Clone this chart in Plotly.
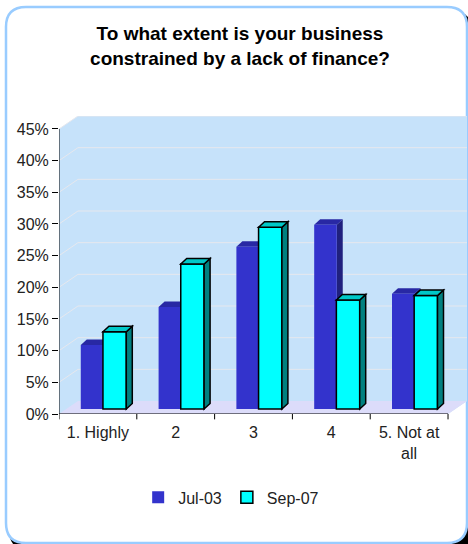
import plotly.graph_objects as go

# Survey responses: share of businesses by degree of finance constraint
categories = ["1. Highly", "2", "3", "4", "5. Not at<br>all"]
jul_03 = [10.1, 16.1, 25.6, 29.1, 18.2]
sep_07 = [12.2, 22.9, 28.7, 17.2, 17.9]
series_names = ["Jul-03", "Sep-07"]
y_tick_values = [0, 5, 10, 15, 20, 25, 30, 35, 40, 45]
y_tick_labels = [f"{v}%" for v in y_tick_values]

# Pseudo-3D geometry (in axis units)
DEPTH_X = 0.244      # wall depth, horizontal
DEPTH_Y = 2.05       # wall depth, vertical
BAR_DX = 0.077       # bar depth, horizontal
BAR_DY = 0.87        # bar depth, vertical
BASE_LIFT = 0.79     # bars stand mid-depth on the floor
Y_MAX = 45

BLUE = "#3333CC"
BLUE_SIDE = "#20207E"
BLUE_TOP = "#2828A4"
CYAN = "#00FFFF"
CYAN_SIDE = "#008080"
CYAN_TOP = "#00C8C8"
WALL = "#C6E2FA"
FLOOR = "#DCDCFA"
GRID = "#E6E8EE"
TEXT = "#222222"

FONT = "Liberation Sans, Arial, sans-serif"

x_pos = list(range(len(categories)))
n = len(categories)

fig = go.Figure()

fig.add_trace(go.Bar(
    x=x_pos, y=jul_03, name=series_names[0], yaxis="y2",
    offset=-0.22, width=0.29, base=0,
    marker=dict(color=BLUE, line=dict(width=0)),
))
fig.add_trace(go.Bar(
    x=x_pos, y=sep_07, name=series_names[1], yaxis="y2",
    offset=0.065, width=0.30, base=0,
    marker=dict(color=CYAN, line=dict(color="black", width=1.5)),
))

shapes = []

def poly(pts):
    return "M " + " L ".join(f"{x},{y}" for x, y in pts) + " Z"

# Back wall and left side wall
left, right = -0.5, n - 0.5
shapes.append(dict(
    type="path", xref="x", yref="y", layer="below",
    path=poly([(left, 0), (left, Y_MAX), (left + DEPTH_X, Y_MAX + DEPTH_Y),
               (right + DEPTH_X, Y_MAX + DEPTH_Y), (right + DEPTH_X, DEPTH_Y),
               (right, 0)]),
    fillcolor=WALL, line=dict(width=0),
))
# Floor
shapes.append(dict(
    type="path", xref="x", yref="y", layer="below",
    path=poly([(left, 0), (left + DEPTH_X, DEPTH_Y),
               (right + DEPTH_X, DEPTH_Y), (right, 0)]),
    fillcolor=FLOOR, line=dict(width=0),
))
# Gridlines on the walls
for v in y_tick_values[1:]:
    shapes.append(dict(
        type="path", xref="x", yref="y", layer="below",
        path=f"M {left},{v} L {left + DEPTH_X},{v + DEPTH_Y} L {right + DEPTH_X},{v + DEPTH_Y}",
        line=dict(color=GRID, width=1),
    ))

# Depth faces of the bars
def faces(values, offset, width, side_col, top_col, edge, layer):
    out = []
    for i, v in enumerate(values):
        x0 = i + offset
        x1 = x0 + width
        line = dict(color="black", width=1.5) if edge else dict(width=0)
        out.append(dict(
            type="path", xref="x", yref="y2", layer=layer,
            path=poly([(x1, 0), (x1 + BAR_DX, BAR_DY), (x1 + BAR_DX, v + BAR_DY), (x1, v)]),
            fillcolor=side_col, line=line,
        ))
        out.append(dict(
            type="path", xref="x", yref="y2", layer=layer,
            path=poly([(x0, v), (x0 + BAR_DX, v + BAR_DY), (x1 + BAR_DX, v + BAR_DY), (x1, v)]),
            fillcolor=top_col, line=line,
        ))
    return out

shapes += faces(jul_03, -0.22, 0.29, BLUE_SIDE, BLUE_TOP, False, "below")
shapes += faces(sep_07, 0.065, 0.30, CYAN_SIDE, CYAN_TOP, True, "above")

# Front axes
shapes.append(dict(type="line", xref="x", yref="y", x0=left, x1=left, y0=0, y1=Y_MAX,
                   line=dict(color="black", width=1), layer="above"))
shapes.append(dict(type="line", xref="x", yref="y", x0=left, x1=right, y0=0, y1=0,
                   line=dict(color="black", width=1), layer="above"))
for b in range(n + 1):
    xb = left + b
    shapes.append(dict(type="line", xref="x", yref="paper", x0=xb, x1=xb, y0=0, y1=-0.018,
                       line=dict(color="black", width=1), layer="above"))

# Chart frame with shadow (paper coordinates)
PL, PR, PT, PB = 59, 467, 116, 414
def px(xp):
    return (xp - PL) / (PR - PL)
def py(yp):
    return (PB - yp) / (PB - PT)

def rounded(x0, y0, x1, y1, r):
    return (f"M {px(x0 + r)},{py(y0)} L {px(x1 - r)},{py(y0)} "
            f"Q {px(x1)},{py(y0)} {px(x1)},{py(y0 + r)} "
            f"L {px(x1)},{py(y1 - r)} Q {px(x1)},{py(y1)} {px(x1 - r)},{py(y1)} "
            f"L {px(x0 + r)},{py(y1)} Q {px(x0)},{py(y1)} {px(x0)},{py(y1 - r)} "
            f"L {px(x0)},{py(y0 + r)} Q {px(x0)},{py(y0)} {px(x0 + r)},{py(y0)} Z")

frame = [
    dict(type="path", xref="paper", yref="paper", layer="below",
         path=rounded(9, 11, 472, 550, 20), fillcolor="black", line=dict(width=0)),
    dict(type="path", xref="paper", yref="paper", layer="below",
         path=rounded(6, 7, 467, 543, 20), fillcolor="white",
         line=dict(color="#99CCFF", width=2.5)),
]
shapes = frame + shapes

fig.update_layout(
    width=468, height=544,
    margin=dict(l=PL, r=468 - PR, t=PT, b=544 - PB, pad=0),
    paper_bgcolor="white", plot_bgcolor="rgba(0,0,0,0)",
    barmode="overlay",
    showlegend=True,
    font=dict(family=FONT, size=16, color=TEXT),
    title=dict(
        text="<b>To what extent is your business<br>constrained by a lack of finance?</b>",
        font=dict(family=FONT, size=19, color="black"),
        x=240 / 468, xref="container", xanchor="center",
        y=1 - 40 / 544, yref="container", yanchor="top",
    ),
    xaxis=dict(
        range=[left, right + DEPTH_X], tickmode="array", tickvals=x_pos,
        ticktext=categories, ticks="", showgrid=False, zeroline=False,
        showline=False, tickfont=dict(size=16, color=TEXT),
        ticklabelstandoff=7,
    ),
    yaxis=dict(
        range=[0, Y_MAX + DEPTH_Y], tickmode="array", tickvals=y_tick_values,
        ticktext=y_tick_labels, ticks="outside", ticklen=6, tickcolor="black",
        showgrid=False, zeroline=False, showline=False,
        tickfont=dict(size=16, color=TEXT),
    ),
    yaxis2=dict(
        range=[-BASE_LIFT, Y_MAX + DEPTH_Y - BASE_LIFT], overlaying="y",
        visible=False, showgrid=False, zeroline=False,
    ),
    legend=dict(
        orientation="h", x=0.422, xanchor="center", y=-0.28, yanchor="middle",
        font=dict(size=16, color=TEXT), bgcolor="rgba(0,0,0,0)",
    ),
    shapes=shapes,
)

fig.write_html("out.html")
